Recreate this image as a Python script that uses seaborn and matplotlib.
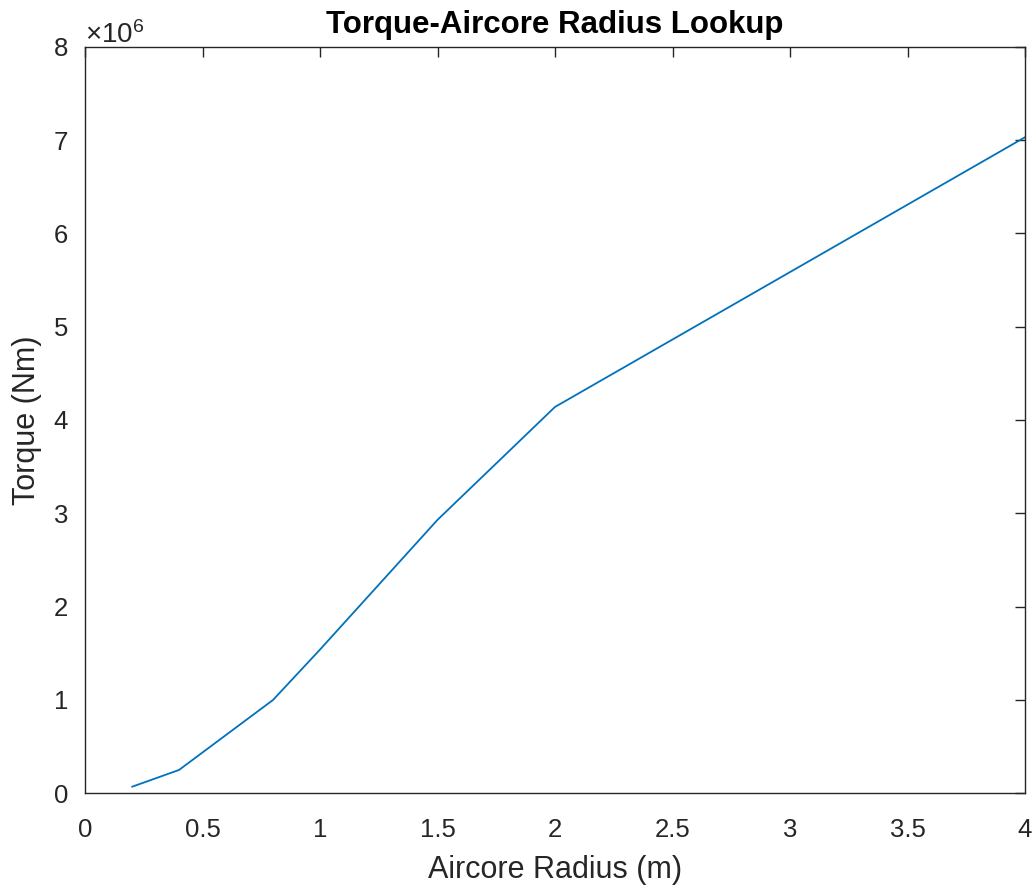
import matplotlib
matplotlib.use("Agg")
import matplotlib.pyplot as plt
import matplotlib.ticker as mticker
import seaborn as sns
import pandas as pd

radius_m = [0.2, 0.4, 0.8, 1.0, 1.5, 2.0, 4.0]
torque_nm = [0.07e6, 0.25e6, 1.0e6, 1.54e6, 2.93e6, 4.14e6, 7.03e6]
x_ticks = [0, 0.5, 1, 1.5, 2, 2.5, 3, 3.5, 4]
x_tick_labels = ["0", "0.5", "1", "1.5", "2", "2.5", "3", "3.5", "4"]
y_ticks = [0, 1e6, 2e6, 3e6, 4e6, 5e6, 6e6, 7e6, 8e6]

sns.set_theme(style="white")
plt.rcParams['font.family'] = ['Liberation Sans', 'DejaVu Sans']
plt.rcParams['mathtext.fontset'] = 'custom'
plt.rcParams['mathtext.rm'] = 'Liberation Sans'
plt.rcParams['mathtext.it'] = 'Liberation Sans'

txt = "#262626"
df = pd.DataFrame({"r": radius_m, "t": torque_nm})

fig = plt.figure(figsize=(10.32, 8.86), dpi=100)
ax = fig.add_axes([85/1032, 1 - 793.3/886, (1025 - 85)/1032, (793.3 - 46.7)/886])
sns.lineplot(data=df, x="r", y="t", ax=ax, color="#0072BD", linewidth=1.3)

ax.set_xlim(0, 4)
ax.set_ylim(0, 8e6)
ax.set_xticks(x_ticks)
ax.set_xticklabels(x_tick_labels)
ax.set_yticks(y_ticks)
fmt = mticker.ScalarFormatter(useMathText=True)
fmt.set_powerlimits((0, 0))
ax.yaxis.set_major_formatter(fmt)
ax.yaxis.get_offset_text().set_fontsize(20)
ax.yaxis.get_offset_text().set_color(txt)

for s in ax.spines.values():
    s.set_color(txt)
    s.set_linewidth(1.0)
ax.tick_params(direction="in", length=7, width=1.0, colors=txt, labelsize=18.5,
               top=True, right=True)
ax.tick_params(axis="x", pad=18)
ax.tick_params(axis="y", pad=12)

ax.set_xlabel("Aircore Radius (m)", fontsize=22, color=txt, labelpad=9)
ax.set_ylabel("Torque (Nm)", fontsize=22, color=txt, labelpad=8)
ax.set_title("Torque-Aircore Radius Lookup", fontsize=22.5, fontweight="bold",
             color="black", y=1.0, pad=10)

fig.savefig("out.png", dpi=100)
